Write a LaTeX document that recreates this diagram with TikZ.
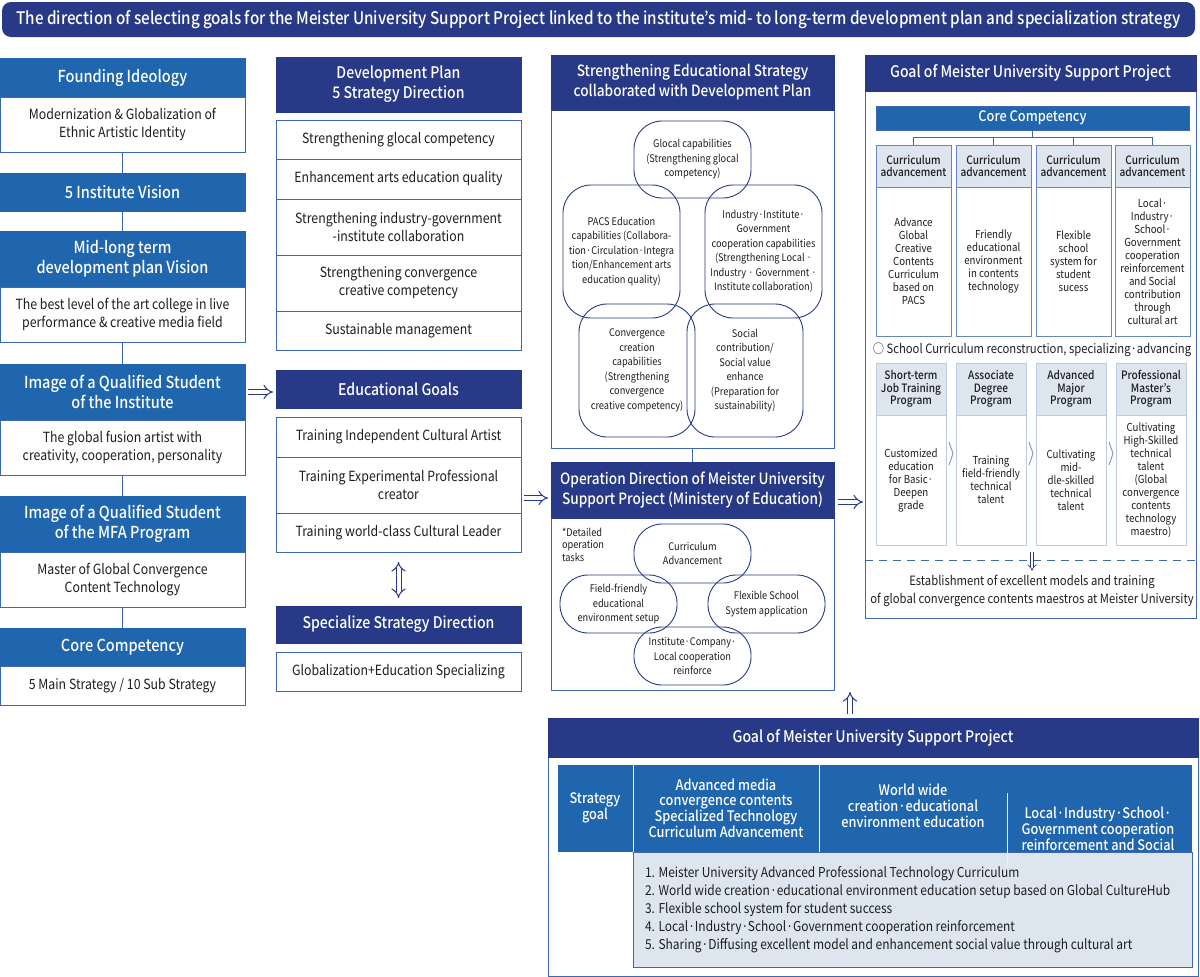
\documentclass[tikz,border=0pt]{standalone}
\usepackage{fontspec}
\setmainfont{Noto Sans CJK KR}[FakeStretch=0.88, BoldFont={Noto Sans CJK KR Medium}]
\usetikzlibrary{arrows.meta}
\definecolor{navy}{RGB}{40,58,135}
\definecolor{midblue}{RGB}{31,102,175}
\definecolor{edge}{RGB}{62,104,176}
\definecolor{pale}{RGB}{221,229,239}
\definecolor{ink}{RGB}{30,30,30}
\newcommand\fsz[2]{\fontsize{#1}{#2}\selectfont}

\begin{document}
\begin{tikzpicture}[x=1pt,y=-1pt,
  box/.style={anchor=north west, inner sep=1pt, align=center, outer sep=0pt, text=ink},
  lhead/.style={box, fill=midblue, draw=midblue, text=white, font=\bfseries\fsz{16.5}{20}, minimum width=245},
  lbody/.style={box, fill=white, draw=edge, line width=0.8pt, font=\fsz{14}{18}, minimum width=245},
  nhead/.style={box, fill=navy, draw=navy, text=white, font=\bfseries\fsz{16}{20}},
  row/.style={box, draw=edge, line width=0.8pt, font=\fsz{14}{18}, minimum width=245},
  frame/.style={box, draw=edge, line width=0.9pt},
  blob/.style={draw=navy, line width=0.9pt, rounded corners=28pt, align=center, font=\fsz{10.5}{14.5}, inner sep=1pt, text=ink}, % rounded boxes
  colhead/.style={box, fill=pale, draw=edge!80, line width=0.7pt, minimum width=75, minimum height=42, font=\bfseries\fsz{11.5}{12.5}},
  colbody/.style={box, fill=white, draw=edge!80, line width=0.7pt, minimum width=75, minimum height=149, font=\fsz{11}{13}},
  proghead/.style={box, fill=pale, draw=pale!80!edge, line width=0.6pt, minimum width=70, minimum height=52, font=\bfseries\fsz{11.5}{12.3}},
  progbody/.style={box, fill=white, draw=pale!80!edge, line width=0.6pt, minimum width=70, minimum height=130, font=\fsz{11}{13}},
  cell/.style={box, fill=midblue, draw=white, line width=1pt, minimum height=88, text=white, font=\bfseries\fsz{14.5}{15.7}},
  link/.style={draw=edge, line width=0.8pt},
  dbl/.style={draw=navy, double=white, double distance=4pt, line width=1pt, -{Implies}},
  chev/.style={draw=edge!70, line width=0.9pt}
]
\fill[white] (0,0) rectangle (1200,977);
\useasboundingbox (0,0) rectangle (1200,977);

% title
\node[box, fill=navy, text=white, rounded corners=9pt, minimum width=1193, minimum height=35,
  font=\bfseries\fsz{17.3}{20}] (title) at (2,2)
  {The direction of selecting goals for the Meister University Support Project linked to the institute’s mid- to long-term development plan and specialization strategy};

% left column
\node[lhead, minimum height=39] (found) at (0,58) {Founding Ideology};
\node[lbody, minimum height=55] (foundb) at (0,97) {Modernization \& Globalization of\\Ethnic Artistic Identity};
\node[lhead, minimum height=38] (vision) at (0,173) {5 Institute Vision};
\node[lhead, minimum height=56] (midlong) at (0,231) {Mid-long term\\development plan Vision};
\node[lbody, minimum height=55] (midlongb) at (0,287) {The best level of the art college in live\\performance \& creative media field};
\node[lhead, minimum height=56] (qinst) at (0,364) {Image of a Qualified Student\\of the Institute};
\node[lbody, minimum height=55] (qinstb) at (0,420) {The global fusion artist with\\creativity, cooperation, personality};
\node[lhead, minimum height=56] (qmfa) at (0,496) {Image of a Qualified Student\\of the MFA Program};
\node[lbody, minimum height=55] (qmfab) at (0,552) {Master of Global Convergence\\Content Technology};
\node[lhead, minimum height=38] (core) at (0,628) {Core Competency};
\node[lbody, minimum height=39] (coreb) at (0,666) {5 Main Strategy / 10 Sub Strategy};
\foreach \a/\b in {foundb/vision, vision/midlong, midlongb/qinst, qinstb/qmfa, qmfab/core}
  \draw[link] (\a.south) -- (\b.north);

% second column
\node[nhead, minimum width=245, minimum height=55] (plan) at (276,57) {Development Plan\\5 Strategy Direction};
\node[row, minimum height=39] (p1) at (276,120) {Strengthening glocal competency};
\node[row, minimum height=40] (p2) at (276,159) {Enhancement arts education quality};
\node[row, minimum height=56] (p3) at (276,199) {Strengthening industry-government\\-institute collaboration};
\node[row, minimum height=56] (p4) at (276,255) {Strengthening convergence\\creative competency};
\node[row, minimum height=39] (p5) at (276,311) {Sustainable management};
\node[nhead, minimum width=245, minimum height=38] (goals) at (276,370) {Educational Goals};
\node[row, minimum height=40] (eg1) at (276,417) {Training Independent Cultural Artist};
\node[row, minimum height=56] (eg2) at (276,457) {Training Experimental Professional\\creator};
\node[row, minimum height=39] (eg3) at (276,513) {Training world-class Cultural Leader};
\node[nhead, minimum width=245, minimum height=37] (spec) at (276,606) {Specialize Strategy Direction};
\node[row, minimum height=39] (specb) at (276,652) {Globalization+Education Specializing};

% third column
\node[frame, minimum width=283, minimum height=393] (stratf) at (551,55) {};
\node[nhead, minimum width=283, minimum height=55, font=\bfseries\fsz{15.5}{20}] (strat) at (551,55) {Strengthening Educational Strategy\\collaborated with Development Plan};
\node[blob, minimum width=117, minimum height=77] (glocal) at (692.5,159.5) {Glocal capabilities\\(Strengthening glocal\\competency)};
\node[blob, minimum width=117, minimum height=133] (pacs) at (621.5,251.5) {PACS Education\\capabilities (Collabora-\\tion·Circulation·Integra\\tion/Enhancement arts\\education quality)};
\node[blob, minimum width=117, minimum height=133] (indus) at (763.5,251.5) {Industry·Institute·\\Government\\cooperation capabilities\\(Strengthening Local ·\\Industry · Government ·\\Institute collaboration)};
\node[blob, minimum width=116, minimum height=133] (conv) at (637,370.5) {Convergence\\creation\\capabilities\\(Strengthening\\convergence\\creative competency)};
\node[blob, minimum width=116, minimum height=133] (social) at (745,370.5) {Social\\contribution/\\Social value\\enhance\\(Preparation for\\sustainability)};

\node[frame, minimum width=283, minimum height=228] (operf) at (551,462) {};
\node[nhead, minimum width=283, minimum height=56, font=\bfseries\fsz{15.5}{20}] (oper) at (551,462) {Operation Direction of Meister University\\Support Project (Ministery of Education)};
\node[box, align=left, font=\fsz{10.5}{12.5}] (note) at (561,527) {*Detailed\\operation\\tasks};
\node[blob, minimum width=117, minimum height=59] (curadv) at (692.5,553.5) {Curriculum\\Advancement};
\node[blob, minimum width=117, minimum height=58] (field) at (618.5,604) {Field-friendly\\educational\\environment setup};
\node[blob, minimum width=117, minimum height=58] (flex) at (766.5,604) {Flexible School\\System application};
\node[blob, minimum width=117, minimum height=58] (instco) at (692.5,656) {Institute·Company·\\Local cooperation\\reinforce};
\draw[link] (glocal |- stratf.south) -- (glocal |- oper.north);

% right panel
\node[frame, minimum width=331, minimum height=563] (goalf) at (865,55) {};
\node[nhead, minimum width=331, minimum height=36] (goal) at (865,55) {Goal of Meister University Support Project};
\node[box, fill=midblue, draw=edge, line width=0.8pt, minimum width=313, minimum height=24, text=white,
  font=\bfseries\fsz{14.5}{16}] (corecomp) at (876,106) {Core Competency};
\foreach \i/\x in {1/876, 2/956, 3/1036, 4/1115} {
  \node[colhead] (ch\i) at (\x,145) {Curriculum\\advancement};
}
\node[colbody] (cb1) at (876,187) {Advance\\Global\\Creative\\Contents\\Curriculum\\based on\\PACS};
\node[colbody] (cb2) at (956,187) {Friendly\\educational\\environment\\in contents\\technology};
\node[colbody] (cb3) at (1036,187) {Flexible\\school\\system for\\student\\sucess};
\node[colbody] (cb4) at (1115,187) {Local·\\Industry·\\School·\\Government\\cooperation\\reinforcement\\and Social\\contribution\\through\\cultural art};
\coordinate (hub) at ([yshift=-7pt]corecomp.south);
\draw[link] (corecomp.south) -- (hub);
\foreach \i in {1,...,4}
  \draw[link] (hub) -| (ch\i.north);
\node[text=ink, font=\fsz{12.8}{16}] (school) at (1032,350) {○ School Curriculum reconstruction, specializing·advancing};
\node[proghead] (ph1) at (876,363) {Short-term\\Job Training\\Program};
\node[proghead] (ph2) at (956,363) {Associate\\Degree\\Program};
\node[proghead] (ph3) at (1036,363) {Advanced\\Major\\Program};
\node[proghead] (ph4) at (1116,363) {Professional\\Master’s\\Program};
\node[progbody] (pb1) at (876,415) {Customized\\education\\for Basic·\\Deepen\\grade};
\node[progbody] (pb2) at (956,415) {Training\\field-friendly\\technical\\talent};
\node[progbody] (pb3) at (1036,415) {Cultivating\\mid-\\dle-skilled\\technical\\talent};
\node[progbody] (pb4) at (1116,415) {Cultivating\\High-Skilled\\technical\\talent\\(Global\\convergence\\contents\\technology\\maestro)};
\foreach \x in {951,1031,1111}
  \draw[chev] ({\x-2},442) -- ({\x+2},453.5) -- ({\x-2},465);
\draw[draw=edge, line width=0.9pt, dash pattern=on 8pt off 6pt] (goalf.west |- 0,560) -- (goalf.east |- 0,560);
\node[text=ink, align=center, font=\fsz{12.8}{18}] (est) at (1032,591) {Establishment of excellent models and training\\of global convergence contents maestros at Meister University};
\draw[dbl, double distance=2.5pt, line width=0.7pt] ([yshift=20pt]est.north) -- ([yshift=1pt]est.north);

% bottom panel
\node[frame, minimum width=650, minimum height=258] (bgoalf) at (548,718) {};
\node[nhead, minimum width=650, minimum height=39] (bgoal) at (548,718) {Goal of Meister University Support Project};
\node[cell, minimum width=76] (sg) at (557,764) {Strategy\\goal};
\node[cell, minimum width=186] (tg1) at (633,764) {Advanced media\\convergence contents\\Specialized Technology\\Curriculum Advancement};
\node[cell, minimum width=373] (tg2) at (819,764) {};
\node[text=white, align=center, font=\bfseries\fsz{14.5}{15.7}] (tg2a) at (913,806) {World wide\\creation·educational\\environment education};
\node[text=white, align=center, font=\bfseries\fsz{14.5}{15.7}] (tg2b) at (1098,829) {Local·Industry·School·\\Government cooperation\\reinforcement and Social};
\node[box, fill=pale, draw=edge, line width=0.8pt, minimum width=559, minimum height=115] (tasks) at (633,852) {};
\draw[draw=pale!60!white, line width=1pt] (1007,793) -- (1007,872);
\node[box, align=left, font=\fsz{13.6}{18}] (tasklist) at (644,865)
  {1. Meister University Advanced Professional Technology Curriculum\\
   2. World wide creation·educational environment education setup based on Global CultureHub\\
   3. Flexible school system for student success\\
   4. Local·Industry·School·Government cooperation reinforcement\\
   5. Sharing·Diffusing excellent model and enhancement social value through cultural art};

% arrows between panels
\draw[dbl] ([xshift=3pt]qinst.east) -- ([xshift=-3pt]qinst.east -| goals.west);
\draw[dbl] ([xshift=3pt,yshift=-13pt]eg2.east) -- ([xshift=-3pt,yshift=-13pt]eg2.east -| oper.west);
\draw[dbl] ([xshift=4pt,yshift=-12pt]oper.east) -- ([xshift=-2pt,yshift=-12pt]oper.east -| goalf.west);
\draw[dbl, {Implies}-{Implies}] ([yshift=-10pt]eg3.south) -- ([yshift=8pt]spec.north);
\draw[dbl] ([xshift=-23pt,yshift=4pt]bgoal.north) -- ([xshift=-23pt,yshift=-2pt]bgoal.north |- operf.south);
\end{tikzpicture}
\end{document}
